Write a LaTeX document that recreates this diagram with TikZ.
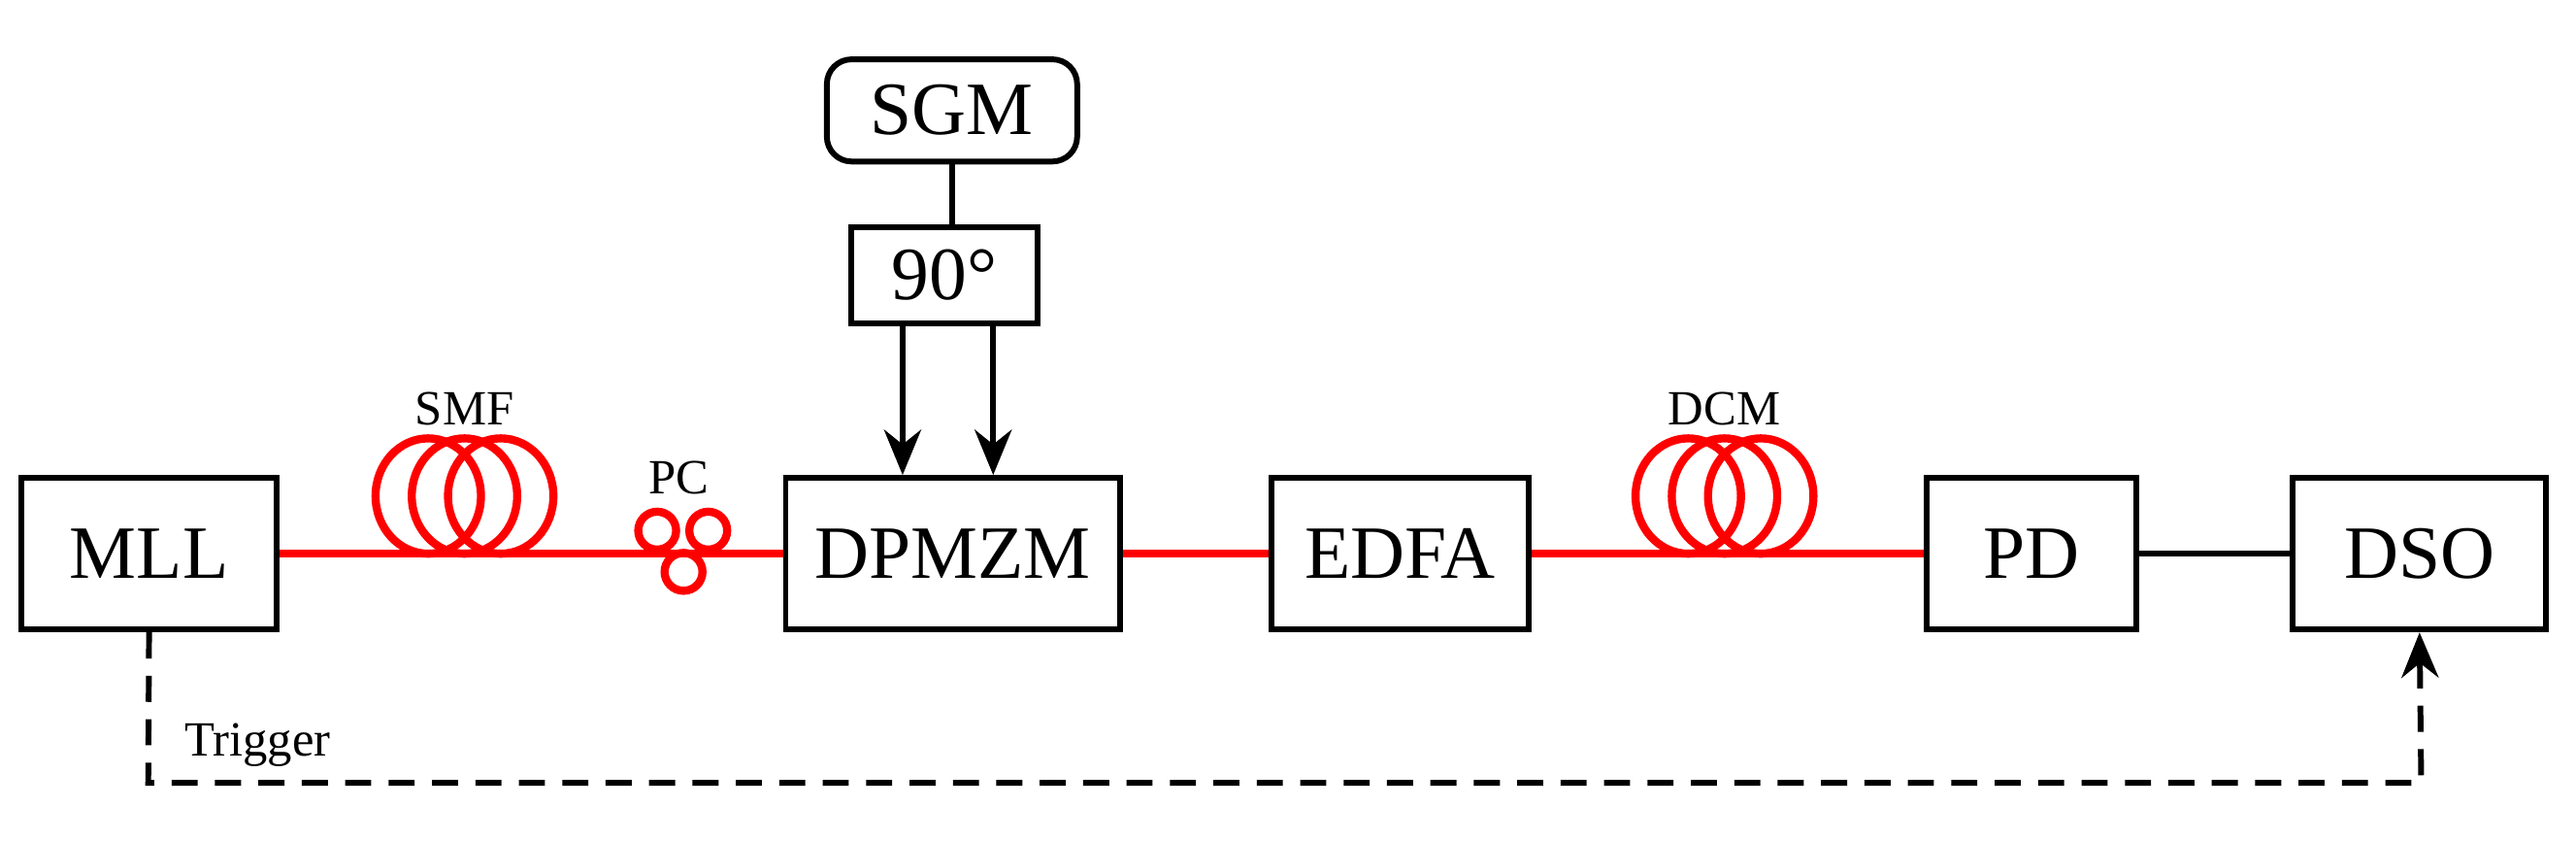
\documentclass[tikz,border=0pt]{standalone}
\usepackage{fontspec}
\setmainfont{Liberation Serif}
\usetikzlibrary{arrows.meta}
\begin{document}
\begin{tikzpicture}[x=0.02cm,y=-0.02cm,
  blk/.style={draw, line width=2pt, minimum height=1.84cm, inner sep=0pt, font=\fontsize{26}{30}\selectfont},
  fib/.style={red, line width=2.8pt},
  wire/.style={black, line width=2pt},
  tip/.style={-{Stealth[length=0.55cm, width=0.45cm]}},
  lbl/.style={font=\fontsize{17}{20}\selectfont}]
\useasboundingbox (0,0) rectangle (1564,510);
% blocks
\node[blk, minimum width=3.1cm] (mll) at (90.5,336) {MLL};
\node[blk, minimum width=4.06cm] (dpmzm) at (578.5,336) {DPMZM};
\node[blk, minimum width=3.12cm] (edfa) at (850,336) {EDFA};
\node[blk, minimum width=2.54cm] (pd) at (1233.5,336) {PD};
\node[blk, minimum width=3.08cm] (dso) at (1469,336) {DSO};
\node[blk, rounded corners=0.3cm, minimum width=3.04cm, minimum height=1.24cm] (sgm) at (578,67) {SGM};
\node[blk, minimum width=2.26cm, minimum height=1.16cm] (ps) at (573.5,167) {90°};
% fibre coils
\foreach \cx in {282, 1047}{
  \foreach \d in {-22,0,22}
    \draw[fib] (\cx+\d,301) ellipse[x radius=32, y radius=35];
}
\node[lbl] (smf) at (282,248) {SMF};
\node[lbl] (dcm) at (1047,248) {DCM};
\foreach \px/\py in {399/322, 430/322, 415/347}
  \draw[fib] (\px,\py) circle[radius=11.5];
\node[lbl] (pc) at (412,290) {PC};
% connections
\draw[fib] (mll) -- (dpmzm);
\draw[fib] (dpmzm) -- (edfa);
\draw[fib] (edfa) -- (pd);
\draw[wire] (pd) -- (dso);
\draw[wire] (sgm.south) -- (sgm.south |- ps.north);
\draw[wire, tip] (ps.south -| 548,0) -- (dpmzm.north -| 548,0);
\draw[wire, tip] (ps.south -| 603,0) -- (dpmzm.north -| 603,0);
\coordinate (t1) at (90,475);
\coordinate (t2) at (1470,475);
\draw[wire, dash pattern=on 9pt off 6pt, tip] (mll.south) -- (t1) -- (t2) -- (dso.south);
\node[lbl, anchor=west] (trig) at (106,452) {Trigger};
\end{tikzpicture}
\end{document}
